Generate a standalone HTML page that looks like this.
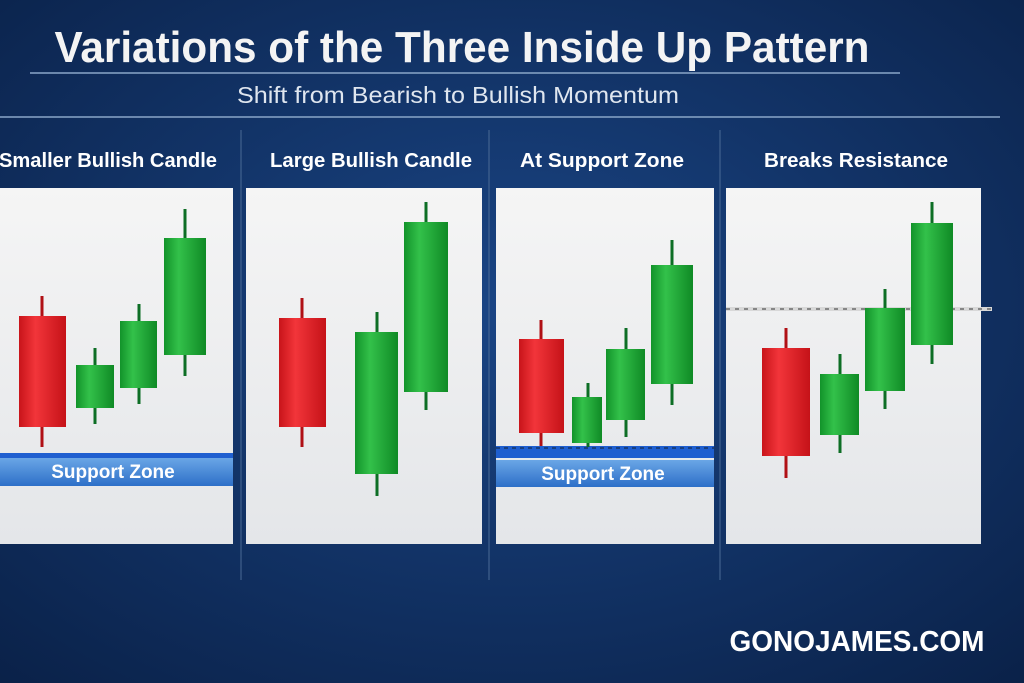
<!DOCTYPE html>
<html><head><meta charset="utf-8"><style>
html,body{margin:0;padding:0;width:1024px;height:683px;overflow:hidden;background:#0d2a55}
</style></head><body>
<svg width="1024" height="683" viewBox="0 0 1024 683" xmlns="http://www.w3.org/2000/svg" font-family="Liberation Sans, sans-serif">
<defs>
<radialGradient id="bg" cx="50%" cy="45%" r="75%">
<stop offset="0" stop-color="#1a4585"/><stop offset="1" stop-color="#0a2148"/></radialGradient>
<linearGradient id="pn" x1="0" y1="0" x2="0" y2="1"><stop offset="0" stop-color="#f5f5f5"/><stop offset="1" stop-color="#e4e6e9"/></linearGradient>
<linearGradient id="rd" x1="0" x2="1"><stop offset="0" stop-color="#c8141a"/><stop offset=".35" stop-color="#f2353a"/><stop offset="1" stop-color="#c51218"/></linearGradient>
<linearGradient id="gr" x1="0" x2="1"><stop offset="0" stop-color="#12932a"/><stop offset=".35" stop-color="#33c14a"/><stop offset="1" stop-color="#0f8a25"/></linearGradient>
<linearGradient id="bl" x1="0" y1="0" x2="0" y2="1"><stop offset="0" stop-color="#6aa6e6"/><stop offset="1" stop-color="#2d6fc8"/></linearGradient>
</defs>
<rect width="1024" height="683" fill="url(#bg)"/>
<text x="462" y="62" text-anchor="middle" font-size="44" font-weight="bold" fill="#f4f4f4" textLength="815" lengthAdjust="spacingAndGlyphs">Variations of the Three Inside Up Pattern</text>
<line x1="30" y1="73" x2="900" y2="73" stroke="#8aa6c8" stroke-width="1.5"/>
<text x="458" y="103" text-anchor="middle" font-size="23" fill="#dfe6ef" textLength="442" lengthAdjust="spacingAndGlyphs">Shift from Bearish to Bullish Momentum</text>
<line x1="0" y1="117" x2="1000" y2="117" stroke="#8aa6c8" stroke-width="1.5"/>
<g stroke="#4a6a95" stroke-width="1"><line x1="241" y1="130" x2="241" y2="580"/><line x1="489" y1="130" x2="489" y2="580"/><line x1="720" y1="130" x2="720" y2="580"/></g>
<g font-size="20" font-weight="bold" fill="#fff" text-anchor="middle">
<text x="108" y="167" textLength="218" lengthAdjust="spacingAndGlyphs">Smaller Bullish Candle</text>
<text x="371" y="167" textLength="202" lengthAdjust="spacingAndGlyphs">Large Bullish Candle</text>
<text x="602" y="167" textLength="164" lengthAdjust="spacingAndGlyphs">At Support Zone</text>
<text x="856" y="167" textLength="184" lengthAdjust="spacingAndGlyphs">Breaks Resistance</text>
</g>
<g fill="url(#pn)"><rect x="0" y="188" width="233" height="356"/><rect x="246" y="188" width="236" height="356"/><rect x="496" y="188" width="218" height="356"/><rect x="726" y="188" width="255" height="356"/></g>
<!-- support P1 -->
<rect x="0" y="453" width="233" height="5" fill="#1f5fd0"/>
<rect x="0" y="458" width="233" height="28" fill="url(#bl)"/>
<text x="113" y="478" text-anchor="middle" font-size="19" font-weight="bold" fill="#fff">Support Zone</text>
<!-- support P3 -->
<rect x="496" y="446" width="218" height="12" fill="#1f5fd0"/>
<line x1="496" y1="448" x2="714" y2="448" stroke="#123" stroke-dasharray="4 4"/>
<rect x="496" y="460" width="218" height="27" fill="url(#bl)"/>
<text x="603" y="480" text-anchor="middle" font-size="19" font-weight="bold" fill="#fff">Support Zone</text>
<!-- resistance -->
<rect x="726" y="307" width="266" height="4" fill="#d8d8d8"/>
<line x1="726" y1="309" x2="992" y2="309" stroke="#333" stroke-dasharray="4 5"/>
<g stroke-width="3">
<!-- P1 -->
<line x1="42" y1="296" x2="42" y2="447" stroke="#b01015"/><rect x="19" y="316" width="47" height="111" fill="url(#rd)"/>
<line x1="95" y1="348" x2="95" y2="424" stroke="#0d6e25"/><rect x="76" y="365" width="38" height="43" fill="url(#gr)"/>
<line x1="139" y1="304" x2="139" y2="404" stroke="#0d6e25"/><rect x="120" y="321" width="37" height="67" fill="url(#gr)"/>
<line x1="185" y1="209" x2="185" y2="376" stroke="#0d6e25"/><rect x="164" y="238" width="42" height="117" fill="url(#gr)"/>
<!-- P2 -->
<line x1="302" y1="298" x2="302" y2="447" stroke="#b01015"/><rect x="279" y="318" width="47" height="109" fill="url(#rd)"/>
<line x1="377" y1="312" x2="377" y2="496" stroke="#0d6e25"/><rect x="355" y="332" width="43" height="142" fill="url(#gr)"/>
<line x1="426" y1="202" x2="426" y2="410" stroke="#0d6e25"/><rect x="404" y="222" width="44" height="170" fill="url(#gr)"/>
<!-- P3 -->
<line x1="541" y1="320" x2="541" y2="446" stroke="#b01015"/><rect x="519" y="339" width="45" height="94" fill="url(#rd)"/>
<line x1="588" y1="383" x2="588" y2="447" stroke="#0d6e25"/><rect x="572" y="397" width="30" height="46" fill="url(#gr)"/>
<line x1="626" y1="328" x2="626" y2="437" stroke="#0d6e25"/><rect x="606" y="349" width="39" height="71" fill="url(#gr)"/>
<line x1="672" y1="240" x2="672" y2="405" stroke="#0d6e25"/><rect x="651" y="265" width="42" height="119" fill="url(#gr)"/>
<!-- P4 -->
<line x1="786" y1="328" x2="786" y2="478" stroke="#b01015"/><rect x="762" y="348" width="48" height="108" fill="url(#rd)"/>
<line x1="840" y1="354" x2="840" y2="453" stroke="#0d6e25"/><rect x="820" y="374" width="39" height="61" fill="url(#gr)"/>
<line x1="885" y1="289" x2="885" y2="409" stroke="#0d6e25"/><rect x="865" y="308" width="40" height="83" fill="url(#gr)"/>
<line x1="932" y1="202" x2="932" y2="364" stroke="#0d6e25"/><rect x="911" y="223" width="42" height="122" fill="url(#gr)"/>
</g>
<text x="857" y="651" text-anchor="middle" font-size="29" font-weight="bold" fill="#fff" textLength="255" lengthAdjust="spacingAndGlyphs">GONOJAMES.COM</text>
</svg>
</body></html>
